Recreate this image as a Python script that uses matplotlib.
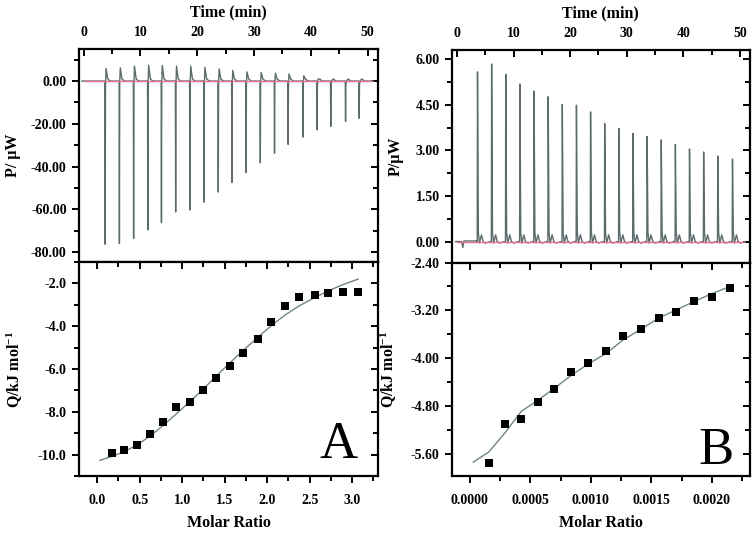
import numpy as np
import matplotlib
matplotlib.use("Agg")
import matplotlib.pyplot as plt
import matplotlib.lines as mlines
from matplotlib.ticker import MultipleLocator, FormatStrFormatter

plt.rcParams['font.family'] = ['Liberation Serif', 'DejaVu Serif']
plt.rcParams['font.weight'] = 'bold'
plt.rcParams['axes.unicode_minus'] = False
plt.rcParams['mathtext.fontset'] = 'custom'
plt.rcParams['mathtext.rm'] = 'Liberation Serif:bold'
plt.rcParams['mathtext.bf'] = 'Liberation Serif:bold'
plt.rcParams['mathtext.it'] = 'Liberation Serif:bold'

# ---------------- data: panel A ----------------
a_inj_time = [3.8, 6.3, 8.8, 11.3, 13.7, 16.2, 18.7, 21.2, 23.7, 26.1, 28.6,
              31.1, 33.6, 36.0, 38.6, 41.1, 43.5, 46.1, 48.5]
a_inj_min = [-76.3, -76.0, -73.6, -69.6, -66.2, -61.2, -60.3, -56.6, -51.9,
             -47.4, -42.8, -38.3, -33.8, -29.6, -26.2, -22.8, -21.2, -18.9, -17.4]
a_inj_max = [5.9, 6.2, 7.0, 7.4, 7.3, 7.0, 7.0, 6.4, 5.7, 5.0, 4.3, 4.0, 3.7,
             3.3, 2.5, 0.9, 0.2, 0.0, 0.0]

a_ratio = [0.176, 0.32, 0.467, 0.616, 0.773, 0.93, 1.09, 1.25, 1.40, 1.56,
           1.72, 1.89, 2.05, 2.21, 2.38, 2.56, 2.72, 2.89, 3.07]
a_heat = [-9.92, -9.80, -9.53, -9.06, -8.48, -7.77, -7.52, -6.97, -6.41,
          -5.88, -5.27, -4.59, -3.80, -3.05, -2.63, -2.52, -2.44, -2.41, -2.38]
a_fit_x = [0.03, 0.176, 0.32, 0.467, 0.616, 0.773, 0.93, 1.09, 1.25, 1.40,
           1.56, 1.72, 1.89, 2.05, 2.21, 2.38, 2.56, 2.72, 2.89, 3.07]
a_fit_y = [-10.27, -10.08, -9.86, -9.55, -9.15, -8.65, -8.10, -7.52, -6.93,
           -6.33, -5.72, -5.12, -4.52, -3.97, -3.48, -3.04, -2.66, -2.35, -2.06, -1.80]

# ---------------- data: panel B ----------------
b_inj_time = [3.6, 6.1, 8.6, 11.1, 13.6, 16.1, 18.6, 21.1, 23.6, 26.1, 28.6,
              31.1, 33.6, 36.1, 38.6, 41.1, 43.6, 46.1, 48.7]
b_inj_max = [5.59, 5.85, 5.51, 5.19, 4.96, 4.77, 4.52, 4.49, 4.27, 3.89, 3.73,
             3.56, 3.46, 3.35, 3.20, 3.05, 2.95, 2.82, 2.72]

b_ratio = [0.000157, 0.000295, 0.000427, 0.000568, 0.000697, 0.000840,
           0.000980, 0.001124, 0.001268, 0.001416, 0.001560, 0.001706,
           0.001855, 0.002000, 0.002150]
b_heat = [-5.74, -5.09, -5.01, -4.73, -4.51, -4.23, -4.08, -3.87, -3.63,
          -3.51, -3.33, -3.22, -3.05, -2.98, -2.83]
b_fit_x = [0.000028] + b_ratio
b_fit_y = [-5.73, -5.56, -5.23, -4.88, -4.69, -4.50, -4.28, -4.09, -3.92,
           -3.69, -3.51, -3.33, -3.19, -3.05, -2.92, -2.80]

# ---------------- figure ----------------
fig = plt.figure(figsize=(7.55, 5.33), dpi=100)
W, H = 755.0, 533.0

def frac(x0, y0, x1, y1):
    return [x0 / W, 1 - y1 / H, (x1 - x0) / W, (y1 - y0) / H]

axA1 = fig.add_axes(frac(78.5, 49, 378.5, 262))
axA2 = fig.add_axes(frac(78.5, 262, 378.5, 476))
axB1 = fig.add_axes(frac(451.5, 50, 750, 262.5))
axB2 = fig.add_axes(frac(451.5, 262.5, 750, 476))

trace_col = '#5c6b6b'
base_col = '#e8708a'
fit_col = '#6f8585'

# thermogram A (vertices assembled from the injection data)
tx, ty = [-0.3, a_inj_time[0] - 0.1], [0.0, 0.0]
for t, mn, mx in zip(a_inj_time, a_inj_min, a_inj_max):
    tx += [t - 0.05, t, t + 0.05, t + 0.15, t + 0.45, t + 0.9, t + 2.3]
    ty += [0.0, mn, -2.0, mx, 1.0, 0.0, 0.0]
tx += [51.0]
ty += [0.0]
axA1.plot(tx, ty, color=trace_col, lw=1.0)
axA1.axhline(0, color=base_col, lw=1.0, xmin=0.02, xmax=0.98)

# thermogram B
tx, ty = [-0.3, 0.8, 1.0, 1.2, 1.6, b_inj_time[0] - 0.1], [0.0, 0.0, -0.2, 0.02, 0.02, 0.02]
for t, mx in zip(b_inj_time, b_inj_max):
    tx += [t - 0.05, t, t + 0.15, t + 0.35, t + 0.7, t + 1.0, t + 1.4, t + 2.3]
    ty += [0.0, mx, 0.3, -0.05, 0.22, 0.0, -0.05, 0.0]
tx += [51.0]
ty += [0.0]
axB1.plot(tx, ty, color=trace_col, lw=1.0)
axB1.axhline(0, color=base_col, lw=1.0, xmin=0.02, xmax=0.98)

# integrated heats
axA2.plot(a_fit_x, a_fit_y, color=fit_col, lw=1.0)
axA2.scatter(a_ratio, a_heat, marker='s', s=30, color='black', zorder=3, linewidths=0)
axB2.plot(b_fit_x, b_fit_y, color=fit_col, lw=1.0)
axB2.scatter(b_ratio, b_heat, marker='s', s=30, color='black', zorder=3, linewidths=0)

# limits
axA1.set_xlim(-0.9, 51.9)
axA1.set_ylim(-84.6, 15)
axA2.set_xlim(-0.22, 3.31)
axA2.set_ylim(-11.0, -1.0)
axB1.set_xlim(-1.0, 51.8)
axB1.set_ylim(-0.69, 6.31)
axB2.set_xlim(-0.000151, 0.002316)
axB2.set_ylim(-5.96, -2.40)

tick_fs = 10
lab_fs = 11.5

axA1.yaxis.set_major_locator(MultipleLocator(20))
axA1.yaxis.set_minor_locator(MultipleLocator(10))
axA1.yaxis.set_major_formatter(FormatStrFormatter('%.2f'))
axA2.yaxis.set_major_locator(MultipleLocator(2))
axA2.yaxis.set_minor_locator(MultipleLocator(1))
axA2.yaxis.set_major_formatter(FormatStrFormatter('%.1f'))
axB1.yaxis.set_major_locator(MultipleLocator(1.5))
axB1.yaxis.set_minor_locator(MultipleLocator(0.75))
axB1.yaxis.set_major_formatter(FormatStrFormatter('%.2f'))
axB2.yaxis.set_major_locator(MultipleLocator(0.8))
axB2.yaxis.set_minor_locator(MultipleLocator(0.4))
axB2.yaxis.set_major_formatter(FormatStrFormatter('%.2f'))

for ax in (axA1, axB1):
    ax.xaxis.set_major_locator(MultipleLocator(10))
    ax.xaxis.set_minor_locator(MultipleLocator(5))
axA2.xaxis.set_major_locator(MultipleLocator(0.5))
axA2.xaxis.set_minor_locator(MultipleLocator(0.25))
axA2.xaxis.set_major_formatter(FormatStrFormatter('%.1f'))
axB2.xaxis.set_major_locator(MultipleLocator(0.0005))
axB2.xaxis.set_minor_locator(MultipleLocator(0.00025))
axB2.xaxis.set_major_formatter(FormatStrFormatter('%.4f'))

for ax in (axA1, axA2, axB1, axB2):
    for s in ax.spines.values():
        s.set_linewidth(1.6)
    ax.tick_params(which='both', width=1.4, labelsize=tick_fs)
    ax.tick_params(which='major', length=5)
    ax.tick_params(which='minor', length=3.5)
    ax.tick_params(axis='y', which='both', left=True, right=True, direction='out')

# top panels: time axis on top, ticks inward
for ax in (axA1, axB1):
    ax.tick_params(axis='x', which='both', top=True, bottom=False,
                   labeltop=True, labelbottom=False, direction='in')
    ax.tick_params(axis='x', which='major', pad=7)
    ax.xaxis.set_label_position('top')
    ax.set_xlabel('Time (min)', fontsize=lab_fs, fontweight='bold', labelpad=7)

# lower panels
for ax in (axA2, axB2):
    ax.tick_params(axis='x', which='both', bottom=True, top=True, direction='out')
    ax.tick_params(axis='x', which='major', pad=8)
    ax.set_xlabel('Molar Ratio', fontsize=lab_fs, fontweight='bold', labelpad=6)

# right-side ticks point inward, top ticks of lower panels point down (inward)
for ax in (axA1, axA2, axB1, axB2):
    for tk in ax.yaxis.get_major_ticks() + ax.yaxis.get_minor_ticks():
        tk.tick2line.set_marker(mlines.TICKLEFT)
for ax in (axA2, axB2):
    for tk in ax.xaxis.get_major_ticks() + ax.xaxis.get_minor_ticks():
        tk.tick2line.set_marker(mlines.TICKDOWN)

axA1.set_ylabel('P/ μW', fontsize=lab_fs, fontweight='bold')
axB1.set_ylabel('P/μW', fontsize=lab_fs, fontweight='bold')
axA2.set_ylabel('Q/kJ mol$^{-1}$', fontsize=lab_fs, fontweight='bold')
axB2.set_ylabel('Q/kJ mol$^{-1}$', fontsize=lab_fs, fontweight='bold')
axA1.yaxis.set_label_coords(-0.192, 0.5)
axA2.yaxis.set_label_coords(-0.178, 0.5)
axB1.yaxis.set_label_coords(-0.159, 0.5)
axB2.yaxis.set_label_coords(-0.176, 0.5)

axA2.text(0.868, 0.084, 'A', transform=axA2.transAxes, fontsize=38,
          fontweight='normal', ha='center', va='baseline')
axB2.text(0.886, 0.056, 'B', transform=axB2.transAxes, fontsize=38,
          fontweight='normal', ha='center', va='baseline')

fig.savefig('out.png', dpi=100)
